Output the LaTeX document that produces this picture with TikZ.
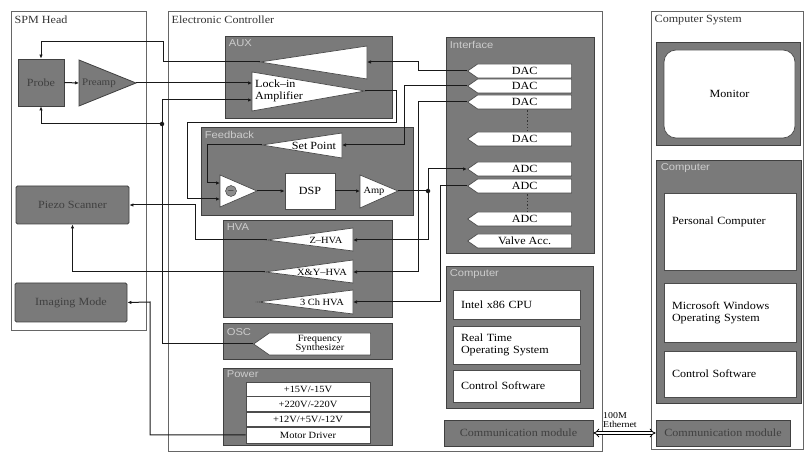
\documentclass[tikz,border=0pt]{standalone}
\usepackage{fontspec}
\setmainfont{Liberation Serif}[FakeStretch=1.1]
\newfontfamily\lblfont{Liberation Sans}[FakeStretch=1.12]
\usetikzlibrary{arrows.meta,shapes.symbols}

\newcommand\txtsize{\fontsize{11}{12}\selectfont}
\newcommand\smlsize{\fontsize{9.5}{9.5}\selectfont}

\begin{document}
\begin{tikzpicture}[x=1pt, y=-1pt,
  outerbox/.style={draw=black!60, line width=1pt, inner sep=0pt},
  ttl/.style={anchor=north west, inner sep=1pt, font=\txtsize, text=black!80},
  blk/.style={draw=black!75, fill=black!52, line width=0.8pt, inner sep=0pt, font=\txtsize, text=black!75},
  gtri/.style={draw=black!75, fill=black!52, line width=0.8pt},
  sec/.style={anchor=north west, inner sep=1pt, font=\lblfont\fontsize{10}{11}\selectfont, text=black!20},
  wbox/.style={draw=black!70, fill=white, line width=0.7pt, inner sep=0pt, font=\txtsize},
  wleft/.style={wbox, text width=111pt, inner xsep=8pt, align=left},
  tri/.style={draw=black!70, fill=white, line width=0.7pt},
  iotag/.style={signal, signal to=west, signal pointer angle=70, draw=black!70, fill=white, line width=0.7pt, inner sep=0pt, minimum width=104pt, minimum height=14pt, anchor=west, font=\txtsize},
  wire/.style={draw=black!90, line width=1pt},
  sig/.style={wire, -{Latex[length=4pt,width=3.5pt]}},
  jdot/.style={circle, fill=black!90, inner sep=0pt, minimum size=4.5pt},
  eth/.style={draw=black, line width=0.8pt, double=white, double distance=2.2pt, {Implies[length=4pt]}-{Implies[length=4pt]}}]

\useasboundingbox (0,0) rectangle (807,454);

% Outer frames
\node[outerbox, minimum width=135pt, minimum height=319pt] (spm) at (78.5,171.5) {};
\node[ttl] (spmttl) at ([shift={(3,3)}]spm.north west) {SPM Head};
\node[outerbox, minimum width=434pt, minimum height=440pt] (ec) at (385,232) {};
\node[ttl] (ecttl) at ([shift={(3,3)}]ec.north west) {Electronic Controller};
\node[outerbox, minimum width=152pt, minimum height=438pt] (cs) at (727,231) {};
\node[ttl] (csttl) at ([shift={(3,3)}]cs.north west) {Computer System};

% SPM head
\node[blk, minimum width=46pt, minimum height=47pt] (probe) at (41,82.5) {Probe};
\draw[gtri] (79,60) -- (136,83) -- (79,106) -- cycle;
\coordinate (preampin) at (79,83);
\coordinate (preampout) at (136,83);
\node[font=\fontsize{10}{10}\selectfont, text=black!75] (preamptxt) at (99,83) {Preamp};
\node[blk, rounded corners=1.5pt, minimum width=113pt, minimum height=38pt] (piezo) at (72.5,205) {Piezo Scanner};
\node[blk, rounded corners=1.5pt, minimum width=112pt, minimum height=39pt] (imaging) at (71,302.5) {Imaging Mode};

% AUX
\node[blk, minimum width=167pt, minimum height=82pt] (aux) at (308.5,77) {};
\node[sec] (auxlbl) at ([shift={(3,3)}]aux.north west) {AUX};
\draw[tri] (367,46) -- (367,79) -- (260,62) -- cycle;
\coordinate (auxin) at (367,62);
\coordinate (auxout) at (260,62);
\draw[tri] (252,72) -- (365,91) -- (252,111) -- cycle;
\coordinate (lkin1) at (252,83);
\coordinate (lkin2) at (252,100);
\coordinate (lkout) at (365,91);
\node[font=\txtsize, align=left, anchor=west, inner sep=0pt] (lktxt) at (255,91) {Lock–in\\Amplifier};

% Feedback
\node[blk, minimum width=212pt, minimum height=88pt] (fb) at (307,171) {};
\node[sec] (fblbl) at ([shift={(3,3)}]fb.north west) {Feedback};
\draw[tri] (342,133) -- (342,158) -- (262,145) -- cycle;
\coordinate (spin) at (342,145);
\coordinate (spout) at (262,145);
\node[font=\txtsize, inner sep=0pt] (sptxt) at (314,146) {Set Point};
\draw[tri] (220,175) -- (257,191) -- (220,207) -- cycle;
\coordinate (subin1) at (220,183);
\coordinate (subin2) at (220,199);
\coordinate (subout) at (257,191);
\node[circle, draw=black!80, fill=black!45, minimum size=11pt, inner sep=0pt, font=\smlsize] (subsym) at (231,191) {$-$};
\node[wbox, minimum width=50pt, minimum height=36pt] (dsp) at (310,191) {DSP};
\draw[tri] (360,175) -- (398,191) -- (360,208) -- cycle;
\coordinate (ampin) at (360,191);
\coordinate (ampout) at (398,191);
\node[font=\smlsize, inner sep=0pt] (amptxt) at (374,191) {Amp};

% HVA
\node[blk, minimum width=169pt, minimum height=97pt] (hva) at (307.5,268.5) {};
\node[sec] (hvalbl) at ([shift={(3,3)}]hva.north west) {HVA};
\draw[tri] (353,228) -- (353,251) -- (267,240) -- cycle;
\coordinate (zin) at (353,240);
\coordinate (zout) at (267,240);
\node[font=\smlsize, inner sep=0pt] (ztxt) at (326,240) {Z–HVA};
\draw[tri] (353,260) -- (353,283) -- (265,272) -- cycle;
\coordinate (xyin) at (353,272);
\coordinate (xyout) at (265,272);
\node[font=\smlsize, inner sep=0pt] (xytxt) at (322,272) {X\&Y–HVA};
\draw[tri] (353,290) -- (353,314) -- (258,302) -- cycle;
\coordinate (chin) at (353,302);
\node[font=\smlsize, inner sep=0pt] (chtxt) at (322,302) {3 Ch HVA};

% OSC
\node[blk, minimum width=169pt, minimum height=36pt] (osc) at (307.5,341) {};
\node[sec] (osclbl) at ([shift={(3,5)}]osc.north west) {OSC};
\node[iotag, minimum width=117pt, minimum height=22pt, font=\smlsize, align=center] (freq) at (253,344) {Frequency\\Synthesizer};

% Power
\node[blk, minimum width=169pt, minimum height=77pt] (power) at (307.5,406.5) {};
\node[sec] (pwlbl) at ([shift={(3,2)}]power.north west) {Power};
\node[wbox, font=\smlsize, minimum width=124pt, minimum height=14pt] (pw1) at (308,389) {+15V/-15V};
\node[wbox, font=\smlsize, minimum width=124pt, minimum height=15pt] (pw2) at (308,404) {+220V/-220V};
\node[wbox, font=\smlsize, minimum width=124pt, minimum height=14pt] (pw3) at (308,419) {+12V/+5V/-12V};
\node[wbox, font=\smlsize, minimum width=124pt, minimum height=16pt] (motor) at (308,435) {Motor Driver};

% Interface
\node[blk, minimum width=148pt, minimum height=216pt] (intf) at (520,145) {};
\node[sec] (intflbl) at ([shift={(3,3)}]intf.north west) {Interface};
\node[iotag] (dac1) at (467,71) {DAC};
\node[iotag] (dac2) at (467,86) {DAC};
\node[iotag] (dac3) at (467,102) {DAC};
\node[iotag] (dac4) at (467,139) {DAC};
\node[iotag] (adc1) at (467,169) {ADC};
\node[iotag] (adc2) at (467,186) {ADC};
\node[iotag] (adc3) at (467,219) {ADC};
\node[iotag] (valve) at (467,241) {Valve Acc.};
\draw[black!80, line width=1.3pt, dotted] (dac3.south) ++(3,1) -- ([xshift=3pt]dac4.north);
\draw[black!80, line width=1.3pt, dotted] (adc2.south) ++(3,1) -- ([xshift=3pt]adc3.north);

% Computer (controller)
\node[blk, minimum width=147pt, minimum height=142pt] (ctl) at (519.5,337) {};
\node[sec] (ctllbl) at ([shift={(3,3)}]ctl.north west) {Computer};
\node[wleft, minimum height=29pt] (cpu) at (516.5,304.5) {Intel x86 CPU};
\node[wleft, minimum height=38pt] (rtos) at (516.5,345) {Real Time\\Operating System};
\node[wleft, minimum height=32pt] (ctlsw) at (516.5,386) {Control Software};
\node[blk, minimum width=149pt, minimum height=26pt] (cml) at (518.5,433) {Communication module};

% Computer system
\node[blk, minimum width=144pt, minimum height=103pt] (mon) at (728,93.5) {};
\node[wbox, rounded corners=12pt, minimum width=131pt, minimum height=88pt] (screen) at (729.5,94) {Monitor};
\node[blk, minimum width=145pt, minimum height=243pt] (pcbox) at (728.5,281.5) {};
\node[sec] (pclbl) at ([shift={(4,3)}]pcbox.north west) {Computer};
\node[wbox, text width=116pt, inner xsep=8pt, align=left, minimum height=77pt] (pc) at (730,231.5) {Personal Computer\\[10pt]~};
\node[wbox, text width=116pt, inner xsep=8pt, align=left, minimum height=59pt] (win) at (730,312.5) {Microsoft Windows\\Operating System};
\node[wbox, text width=116pt, inner xsep=8pt, align=left, minimum height=46pt] (pcsw) at (730,374) {Control Software};
\node[blk, minimum width=134pt, minimum height=26pt] (cmr) at (723,433) {Communication module};

% Connections
\draw[sig] (dac1.west) -- (418,71) |- (auxin);
\draw[sig] (auxout) -| (163,42) -| (probe.north);
\draw[sig] (probe.east) -- (preampin);
\draw[sig] (preampout) -- (lkin1);
\draw[sig] (freq.west) -| (162,100) -- (lkin2);
\node[jdot] (j1) at (162,124) {};
\draw[sig] (j1) -| (probe.south);
\draw[sig] (lkout) -- (396,91) |- (187,123) |- (subin2);
\draw[sig] (dac2.west) -- (404,86) |- (spin);
\draw[sig] (spout) -| (207,183) -- (subin1);
\draw[sig] (subout) -- (dsp.west);
\draw[sig] (dsp.east) -- (ampin);
\node[jdot] (j2) at (428,191) {};
\draw[wire] (ampout) -- (j2);
\draw[sig] (j2) |- (adc1.west);
\draw[sig] (j2) |- (zin);
\draw[sig] (zout) -| (195,205) -- (piezo.east);
\draw[sig] (xyout) -| (piezo.south);
\draw[sig] (dac3.west) -- (418,102) |- (xyin);
\draw[sig] (adc2.west) -- (440,186) |- (chin);
\draw[sig] (motor.west) -| (150,302) -- (imaging.east);
\draw[eth] (cml.east) -- (cmr.west);
\node[font=\fontsize{9}{9}\selectfont, align=left, anchor=south west, inner sep=0pt] (ethlbl) at (603,428) {100M\\Ethernet};

\end{tikzpicture}
\end{document}
